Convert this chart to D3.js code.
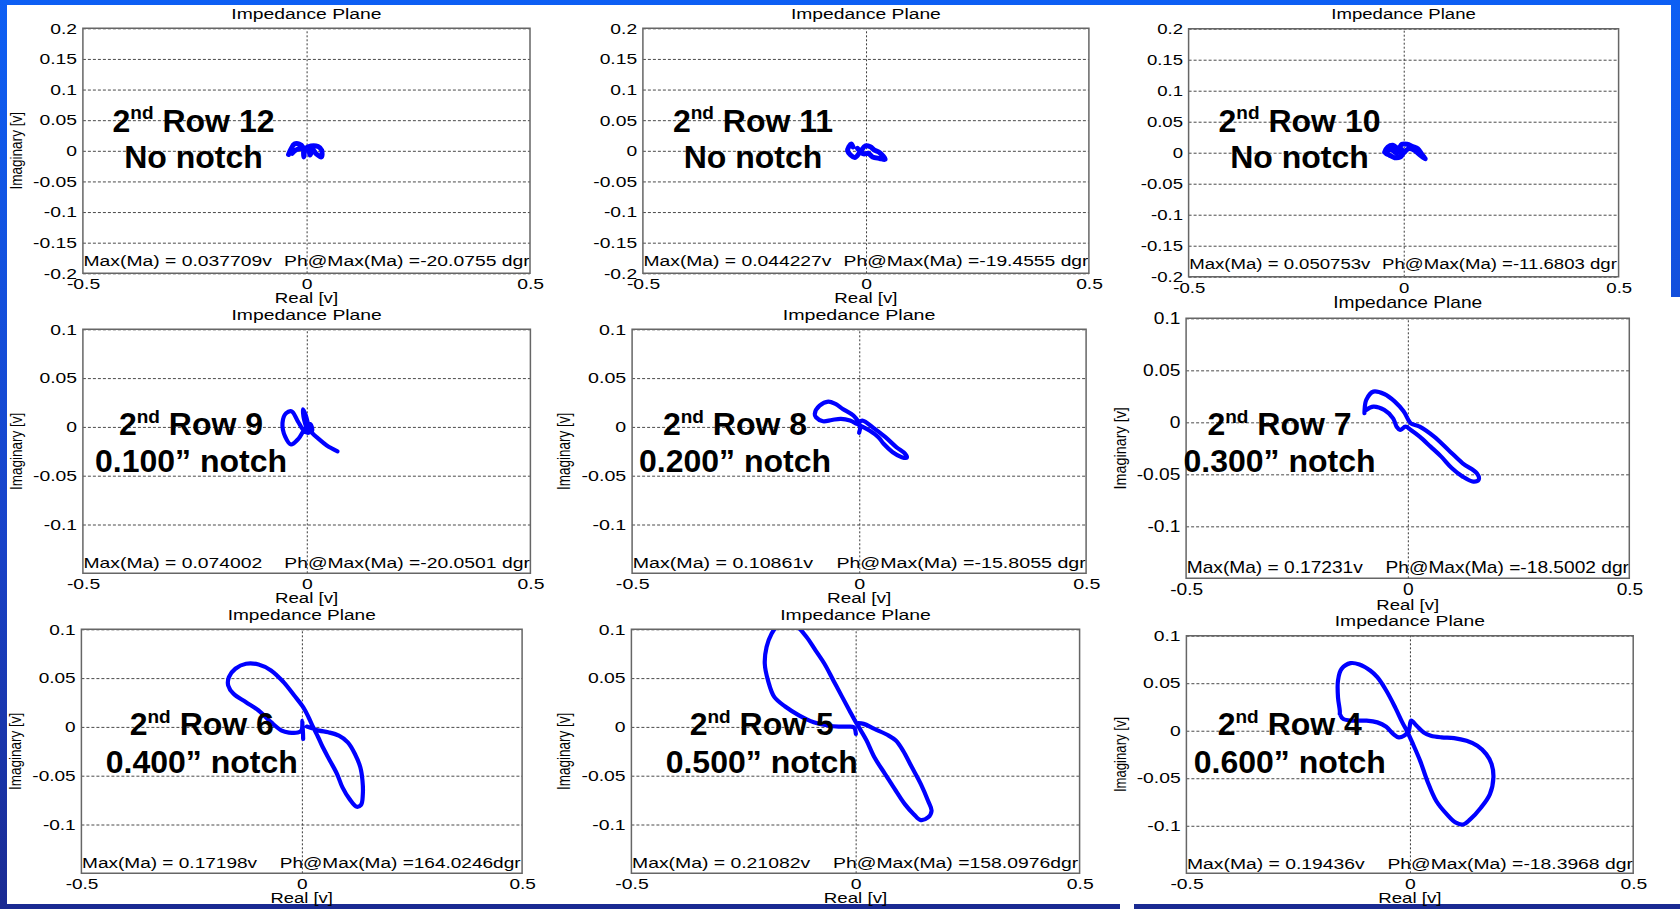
<!DOCTYPE html>
<html>
<head>
<meta charset="utf-8">
<script src="https://cdn.jsdelivr.net/npm/d3@7"></script>
<style>
  body { margin: 0; background: #fff; overflow: hidden; }
  svg { display: block; }
  text { font-family: "Liberation Sans", Arial, Helvetica, sans-serif; white-space: pre; }
</style>
</head>
<body>
<div id="chart"></div>
<script>
// ---- data -------------------------------------------------------------
// panels in reading order: 2nd row 12, 11, 10 / 9, 8, 7 / 6, 5, 4
const rowNumbers = [12, 11, 10, 9, 8, 7, 6, 5, 4];
const notchLabels = ["No notch", "No notch", "No notch",
  "0.100\u201D notch", "0.200\u201D notch", "0.300\u201D notch",
  "0.400\u201D notch", "0.500\u201D notch", "0.600\u201D notch"];
const maxMa = ["0.037709v", "0.044227v", "0.050753v", "0.074002", "0.10861v",
  "0.17231v", "0.17198v", "0.21082v", "0.19436v"];
const phAtMax = ["-20.0755 dgr", "-19.4555 dgr", "-11.6803 dgr", "-20.0501 dgr",
  "-15.8055 dgr", "-18.5002 dgr", "164.0246dgr", "158.0976dgr", "-18.3968 dgr"];

const xDomain = [-0.5, 0.5];
const xTicks = [-0.5, 0, 0.5];
const yDomainWide = [-0.2, 0.2];
const yTicksWide = [-0.2, -0.15, -0.1, -0.05, 0, 0.05, 0.1, 0.15, 0.2];
const yDomainNarrow = [-0.15, 0.1];
const yTicksNarrow = [-0.1, -0.05, 0, 0.05, 0.1];

// [real, imaginary] in volts
const row12 = [[-0.040,-0.006],[-0.035,0.002],[-0.027,0.011],[-0.016,0.011],[-0.008,0.006],
  [-0.006,-0.010],[-0.002,0.004],[0.010,0.008],[0.026,0.007],[0.034,0.001],[0.033,-0.010],
  [0.022,-0.005],[0.014,0.002],[0.008,-0.007],[0.004,0.003],[-0.012,0.004],[-0.024,0.001],
  [-0.032,-0.004]];
const row11 = [[-0.029,0.0065],[-0.033,0.011],[-0.041,0],[-0.025,-0.011],[-0.013,-0.002],
  [-0.001,0.008],[0.010,0.0065],[0.019,0.001],[0.031,-0.003],[0.043,-0.014],[0.031,-0.0125],
  [0.015,-0.010],[0.005,-0.004],[-0.005,-0.005],[-0.019,0.004]];
const row10 = [[-0.044,0.001],[-0.037,0.009],[-0.025,0.012],[-0.012,0.0065],[-0.004,0.0136],
  [0.008,0.0136],[0.021,0.010],[0.033,0.0065],[0.042,-0.002],[0.050,-0.010],[0.037,-0.003],
  [0.025,0.004],[0.012,0.0065],[0,-0.0005],[-0.008,-0.007],[-0.021,-0.008],[-0.033,-0.004],
  [-0.042,-0.0005],[-0.029,0.005],[-0.017,-0.0005],[-0.004,0.005]];
const row9 = [[0.069,-0.025],[0.045,-0.019],[0.026,-0.012],[0.012,-0.006],[0.004,0.002],
  [-0.002,0.012],[-0.008,0.018],[-0.006,0.008],[0.002,-0.002],[0.012,-0.004],[0.008,0.003],
  [-0.004,-0.002],[-0.018,-0.012],[-0.035,-0.018],[-0.048,-0.010],[-0.054,0.004],
  [-0.046,0.014],[-0.034,0.016],[-0.020,0.006],[-0.006,-0.004],[0.004,-0.006],[0.010,-0.001]];
const row8 = [[0,-0.006],[0.002,0.001],[-0.0126,0.0116],[-0.036,0.0184],[-0.052,0.0235],
  [-0.068,0.0259],[-0.087,0.0218],[-0.0976,0.0133],[-0.095,0.0099],[-0.0795,0.0058],
  [-0.060,0.0071],[-0.040,0.0082],[-0.020,0.0065],[-0.0047,0.003],[0.007,0.0003],
  [0.0228,-0.0037],[0.0425,-0.0105],[0.054,-0.0173],[0.074,-0.0259],[0.094,-0.031],
  [0.105,-0.0316],[0.1015,-0.0276],[0.082,-0.0207],[0.058,-0.0105],[0.0346,-0.002],
  [0.007,0.0065],[-0.004,0.004]];
const row7 = [[-0.0975,0.0087],[-0.0975,0.0103],[-0.0935,0.0215],[-0.0774,0.0295],
  [-0.053,0.0272],[-0.029,0.0199],[-0.0089,0.0103],[0.0016,0.0022],[0.007,-0.001],
  [0.027,-0.0042],[0.0596,-0.0138],[0.0919,-0.0266],[0.124,-0.0394],[0.156,-0.049],
  [0.160,-0.0554],[0.148,-0.057],[0.124,-0.0522],[0.0999,-0.0442],[0.0757,-0.033],
  [0.0516,-0.0234],[0.027,-0.0138],[0.007,-0.0074],[-0.005,-0.0042],[-0.017,-0.0074],
  [-0.025,-0.0042],[-0.033,0.0038],[-0.053,0.0119],[-0.0774,0.015],[-0.0935,0.0119]];
const row6 = [[0.0032,-0.0123],[0.0016,0.0065],[-0.0008,-0.0038],[-0.0089,-0.0058],
  [-0.0292,-0.0058],[-0.0454,-0.0038],[-0.0697,0.0048],[-0.098,0.0168],[-0.1264,0.0253],
  [-0.1548,0.0339],[-0.1669,0.0425],[-0.1653,0.051],[-0.1507,0.0596],[-0.1264,0.0647],
  [-0.098,0.064],[-0.0697,0.0579],[-0.0413,0.0459],[-0.017,0.0322],[0.0032,0.0202],
  [0.0154,0.0099],[0.0259,-0.0003],[0.0373,-0.0106],[0.0478,-0.0209],[0.064,-0.0346],
  [0.0802,-0.0483],[0.0924,-0.062],[0.1086,-0.074],[0.1248,-0.0818],[0.1345,-0.0798],
  [0.1386,-0.0688],[0.1378,-0.0551],[0.1329,-0.0414],[0.1207,-0.0277],[0.1045,-0.0158],
  [0.0843,-0.0089],[0.06,-0.0055],[0.0397,-0.0038],[0.0235,-0.0014],[0.0113,0.0003]];
const row5 = [[0.0008,-0.0072],[-0.004,-0.0003],[-0.0175,0.0003],[-0.0375,0.0003],
  [-0.0614,0.0014],[-0.0932,0.0048],[-0.1251,0.0116],[-0.157,0.0209],[-0.1809,0.0305],
  [-0.1952,0.0476],[-0.2024,0.0647],[-0.1984,0.0818],[-0.1873,0.0955],[-0.1729,0.1041],
  [-0.153,0.1075],[-0.1331,0.1041],[-0.1092,0.0921],[-0.0892,0.0784],[-0.0693,0.0647],
  [-0.0494,0.0476],[-0.0295,0.0305],[-0.0135,0.0168],[0.0008,0.0048],[0.012,-0.0038],
  [0.0247,-0.014],[0.0422,-0.0312],[0.0661,-0.0483],[0.09,-0.0654],[0.11,-0.0791],
  [0.1299,-0.0894],[0.1458,-0.0955],[0.1618,-0.0928],[0.1697,-0.086],[0.1618,-0.0757],
  [0.1458,-0.0586],[0.1259,-0.0414],[0.106,-0.0243],[0.09,-0.014],[0.0741,-0.0089],
  [0.0422,-0.0021],[0.0183,0.0031],[0.0064,0.0038]];
const row4 = [[-0.1567,0.0176],[-0.1567,0.0211],[-0.1607,0.0352],[-0.1607,0.0528],
  [-0.1527,0.0651],[-0.1327,0.0711],[-0.1127,0.0697],[-0.0887,0.0634],[-0.0727,0.0563],
  [-0.0528,0.0423],[-0.0328,0.0246],[-0.0168,0.0088],[-0.0048,-0.0018],[0.0072,-0.0141],
  [0.0232,-0.0317],[0.0392,-0.0528],[0.0592,-0.0739],[0.0831,-0.088],[0.1031,-0.0968],
  [0.1191,-0.0986],[0.1351,-0.0933],[0.1591,-0.081],[0.1791,-0.0669],[0.1871,-0.0493],
  [0.1831,-0.0352],[0.1711,-0.0246],[0.1511,-0.0158],[0.1271,-0.0106],[0.0991,-0.0077],
  [0.0711,-0.007],[0.0472,-0.0053],[0.0312,-0.0018],[0.0152,0.0053],[0.0032,0.0106],
  [-0.0024,0],[-0.0128,-0.0053],[-0.0248,-0.007],[-0.0368,-0.0035],[-0.0528,0.0042],
  [-0.0727,0.0088],[-0.0967,0.0106],[-0.1287,0.0106],[-0.1487,0.0123],[-0.1567,0.0176]];

const curves = [row12, row11, row10, row9, row8, row7, row6, row5, row4];

// ---- layout -----------------------------------------------------------
const W = 1680, H = 909;
// nominal figure box (the pasted figures are stretched sideways)
const W0 = 347, H0 = 244;
// plot boxes on the page: [left, right, top, bottom]
const boxes = [
  [82.9, 530.0, 28.3, 273.3], [642.9, 1088.9, 28.3, 273.3], [1188.6, 1618.6, 28.7, 276.7],
  [82.9, 530.4, 329.3, 573.3], [632.1, 1086.1, 329.3, 573.3], [1186.1, 1629.3, 318.3, 578.3],
  [81.4, 522.1, 629.3, 873.3], [631.4, 1079.6, 629.3, 873.3], [1186.4, 1633.2, 635.7, 873.3]
];
// big overlay labels: [centre x, baseline 1, baseline 2]
const labelPos = [
  [193.5, 131.7, 168.3], [753, 131.7, 168.3], [1299.5, 131.7, 168.3],
  [191, 435, 472.3], [735, 435, 472.3], [1279.5, 435, 471.7],
  [201.8, 735, 772.7], [761.7, 735, 772.7], [1289.8, 735, 772.7]
];
const showYLabel = [true, false, false, true, true, true, true, true, true];
const showXLabel = [true, true, false, true, true, true, true, true, true];

const svg = d3.select("#chart").append("svg")
  .attr("width", W).attr("height", H);

// slide frame
const grad = svg.append("defs").append("linearGradient")
  .attr("id", "frame").attr("x1", 0).attr("y1", 0).attr("x2", 0).attr("y2", 1);
grad.append("stop").attr("offset", 0).attr("stop-color", "#0d5ff4");
grad.append("stop").attr("offset", 0.6).attr("stop-color", "#1842c8");
grad.append("stop").attr("offset", 1).attr("stop-color", "#1a2a92");
svg.append("rect").attr("width", W).attr("height", H).attr("fill", "url(#frame)");
svg.append("rect").attr("x", 7).attr("y", 5).attr("width", 1664).attr("height", 899).attr("fill", "#fff");
svg.append("rect").attr("x", 1671).attr("y", 297).attr("width", 9).attr("height", 607).attr("fill", "#fff");
svg.append("rect").attr("x", 1120).attr("y", 904).attr("width", 14).attr("height", 5).attr("fill", "#fff");

const fmt = d => String(d);

curves.forEach((data, i) => {
  const [x0, x1, y0, y1] = boxes[i];
  const sx = (x1 - x0) / W0, sy = (y1 - y0) / H0;
  const wide = i < 3;
  const yDomain = wide ? yDomainWide : yDomainNarrow;
  const yTicks = wide ? yTicksWide : yTicksNarrow;

  const x = d3.scaleLinear().domain(xDomain).range([0, W0]);
  const y = d3.scaleLinear().domain(yDomain).range([H0, 0]);

  const g = svg.append("g")
    .attr("transform", `translate(${x0},${y0}) scale(${sx},${sy})`);

  g.append("clipPath").attr("id", "clip" + i)
    .append("rect").attr("width", W0).attr("height", H0);

  // grid
  g.append("g")
    .call(d3.axisLeft(y).tickValues(yTicks).tickSize(-W0).tickFormat(""))
    .call(a => a.select(".domain").remove())
    .selectAll("line")
    .attr("stroke", "#4a4a4a").attr("stroke-width", 1)
    .attr("stroke-dasharray", "3,2").attr("vector-effect", "non-scaling-stroke");
  g.append("g").attr("transform", `translate(0,${H0})`)
    .call(d3.axisBottom(x).tickValues([0]).tickSize(-H0).tickFormat(""))
    .call(a => a.select(".domain").remove())
    .selectAll("line")
    .attr("stroke", "#3a3a3a").attr("stroke-width", 1)
    .attr("stroke-dasharray", "2,2").attr("vector-effect", "non-scaling-stroke");

  // tick labels
  g.append("g")
    .call(d3.axisLeft(y).tickValues(yTicks).tickSize(0).tickPadding(4.5).tickFormat(fmt))
    .call(a => a.select(".domain").remove())
    .selectAll("text").attr("font-size", 15).attr("fill", "#000")
    .attr("font-family", "'Liberation Sans', Arial, sans-serif");
  g.append("g").attr("transform", `translate(0,${H0})`)
    .call(d3.axisBottom(x).tickValues(xTicks).tickSize(0).tickPadding(5).tickFormat(fmt))
    .call(a => a.select(".domain").remove())
    .selectAll("text").attr("font-size", 15).attr("fill", "#000")
    .attr("font-family", "'Liberation Sans', Arial, sans-serif");

  // titles
  g.append("text").attr("x", W0 / 2).attr("y", -15).attr("dy", "0.35em")
    .attr("text-anchor", "middle").attr("font-size", 15).text("Impedance Plane");
  if (showXLabel[i]) {
    g.append("text").attr("x", W0 / 2).attr("y", H0 + 25).attr("dy", "0.35em")
      .attr("text-anchor", "middle").attr("font-size", 14.5).text("Real [v]");
  }
  if (showYLabel[i]) {
    g.append("text").attr("transform", "rotate(-90)")
      .attr("x", -H0 / 2).attr("y", -52).attr("dy", "0.35em")
      .attr("text-anchor", "middle").attr("font-size", 13.5).text("Imaginary [v]");
  }

  // trajectory
  const line = d3.line()
    .x(d => x(d[0])).y(d => y(d[1]))
    .curve(d3.curveCatmullRom.alpha(0.5));
  g.append("path").datum(data)
    .attr("clip-path", `url(#clip${i})`)
    .attr("d", line)
    .attr("fill", "none").attr("stroke", "#0000ff")
    .attr("stroke-width", wide ? 5 : 4.2)
    .attr("stroke-linejoin", "round").attr("stroke-linecap", "round")
    .attr("vector-effect", "non-scaling-stroke");

  // readout text
  const noteY = y(wide ? -0.188 : -0.145);
  const notes = g.append("g").attr("clip-path", `url(#clip${i})`);
  notes.append("text").attr("x", x(-0.5) + 0.5).attr("y", noteY)
    .attr("font-size", 15).text("Max(Ma) = " + maxMa[i]);
  notes.append("text").attr("x", x(-0.05)).attr("y", noteY)
    .attr("font-size", 15).text("Ph@Max(Ma) =" + phAtMax[i]);

  // box
  g.append("rect").attr("width", W0).attr("height", H0)
    .attr("fill", "none").attr("stroke", "#666").attr("stroke-width", 1.5)
    .attr("vector-effect", "non-scaling-stroke");

  // overlay label
  const [cx, b1, b2] = labelPos[i];
  const t1 = svg.append("text").attr("x", cx).attr("y", b1)
    .attr("text-anchor", "middle").attr("font-size", 32).attr("font-weight", "bold");
  t1.append("tspan").text("2");
  t1.append("tspan").attr("font-size", 19).attr("dy", -12.5).text("nd");
  t1.append("tspan").attr("dy", 12.5).text(" Row " + rowNumbers[i]);
  svg.append("text").attr("x", cx).attr("y", b2)
    .attr("text-anchor", "middle").attr("font-size", 32).attr("font-weight", "bold")
    .text(notchLabels[i]);
});
</script>
</body>
</html>
